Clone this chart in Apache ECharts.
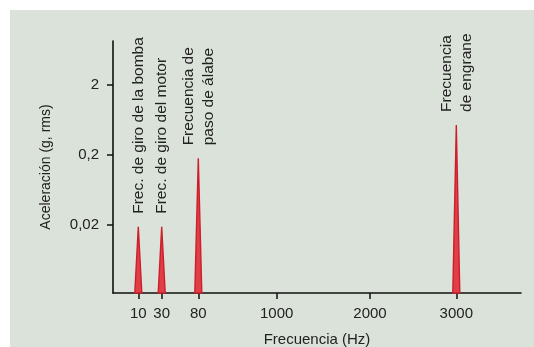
<!DOCTYPE html>
<html>
<head>
<meta charset="utf-8">
<script src="https://cdn.jsdelivr.net/npm/echarts@6/dist/echarts.min.js"></script>
<style>
html,body{margin:0;padding:0;background:#ffffff;}
#wrap{position:relative;width:534px;height:347px;background:#ffffff;overflow:hidden;}
#chart{position:absolute;left:10px;top:10px;width:524px;height:337px;background:#dbe2d9;}
</style>
</head>
<body>
<div id="wrap"><div id="chart"></div></div>
<script>
// ---- data ----
const peakFreqHz = [10, 30, 80, 3000];
const peakAccel = [0.019, 0.019, 0.18, 0.54];
const peakLabels = ['Frec. de giro de la bomba', 'Frec. de giro del motor', 'Frecuencia de\npaso de álabe', 'Frecuencia\nde engrane'];
const xTickHz = [10, 30, 80, 1000, 2000, 3000];
const yTickValues = [0.02, 0.2, 2];

// ---- broken (non-uniform) frequency scale: knots in axis units ----
const scaleKnotHz = [10, 30, 80, 1000, 2000, 3000];
const scaleKnotU = [25.3, 48.7, 85.3, 163.7, 257, 343.3];
const xAxisMaxU = 408;
function hzToU(hz) {
  const k = scaleKnotHz, u = scaleKnotU;
  if (hz <= k[0]) return u[0] + (hz - k[0]) * (u[1] - u[0]) / (k[1] - k[0]);
  for (let i = 0; i < k.length - 1; i++) {
    if (hz <= k[i + 1]) return u[i] + (hz - k[i]) * (u[i + 1] - u[i]) / (k[i + 1] - k[i]);
  }
  const n = k.length - 1;
  return u[n] + (hz - k[n]) * (u[n] - u[n - 1]) / (k[n] - k[n - 1]);
}
const xTickU = xTickHz.map(hzToU);

// ---- log10 y scale ----
const yMinLog = -2.666, yMaxLog = 0.93;
const yTickLog = yTickValues.map(v => Math.log10(v));
function fmtY(l) {
  const v = Number(Math.pow(10, l).toPrecision(3));
  return String(v).replace('.', ',');
}

const seriesData = peakFreqHz.map((hz, i) => [hzToU(hz), Math.log10(peakAccel[i]), i]);

const chart = echarts.init(document.getElementById('chart'), null, {renderer: 'canvas'});
chart.setOption({
  animation: false,
  backgroundColor: 'transparent',
  textStyle: {fontFamily: '"Liberation Sans", Arial, sans-serif'},
  grid: {left: 103, right: 13, top: 31, bottom: 54, containLabel: false, outerBoundsMode: 'none'},
  xAxis: {
    type: 'value',
    min: 0,
    max: xAxisMaxU,
    name: 'Frecuencia (Hz)',
    nameLocation: 'middle',
    nameGap: 39,
    nameTextStyle: {fontSize: 15, color: '#222'},
    axisLine: {show: true, onZero: false, lineStyle: {color: '#111', width: 1.6}},
    axisTick: {show: true, length: 6, lineStyle: {color: '#111', width: 1.5}, customValues: xTickU},
    axisLabel: {
      fontSize: 15, color: '#222', margin: 13,
      customValues: xTickU,
      formatter: function (v) {
        let best = 0, bd = Infinity;
        xTickU.forEach((u, i) => { const d = Math.abs(u - v); if (d < bd) { bd = d; best = i; } });
        return String(xTickHz[best]);
      }
    },
    splitLine: {show: false}
  },
  yAxis: {
    type: 'value',
    min: yMinLog,
    max: yMaxLog,
    name: 'Aceleración (g, rms)',
    nameLocation: 'middle',
    nameGap: 60,
    nameTextStyle: {fontSize: 14, color: '#222'},
    axisLine: {show: true, onZero: false, lineStyle: {color: '#111', width: 1.6}},
    axisTick: {show: true, length: 6, lineStyle: {color: '#111', width: 1.5}, customValues: yTickLog},
    axisLabel: {fontSize: 15, color: '#222', margin: 14, customValues: yTickLog, formatter: fmtY},
    splitLine: {show: false}
  },
  series: [{
    type: 'custom',
    data: seriesData,
    clip: false,
    renderItem: function (params, api) {
      const u = api.value(0), l = api.value(1), idx = api.value(2);
      const top = api.coord([u, l]);
      const base = api.coord([u, yMinLog]);
      const hw = 3.5;
      return {
        type: 'group',
        children: [{
          type: 'polygon',
          shape: {points: [[base[0] - hw, base[1]], [top[0], top[1]], [base[0] + hw, base[1]]]},
          style: {fill: '#e03f48', stroke: '#cc1f2b', lineWidth: 1.4}
        }, {
          type: 'text',
          x: top[0],
          y: top[1] - 13,
          rotation: Math.PI / 2,
          style: {
            text: peakLabels[idx],
            align: 'left',
            verticalAlign: 'middle',
            font: '15.5px "Liberation Sans", Arial, sans-serif',
            lineHeight: 20,
            fill: '#222'
          }
        }]
      };
    }
  }]
});
</script>
</body>
</html>
